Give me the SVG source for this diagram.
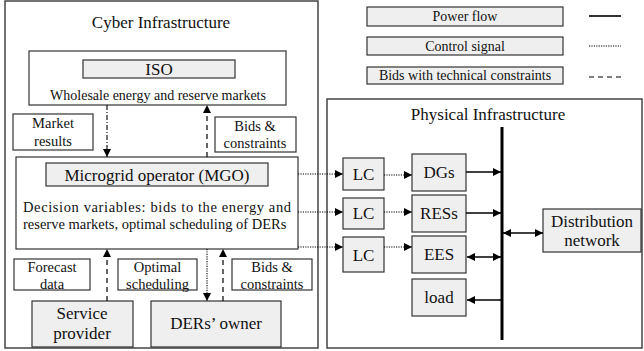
<svg xmlns="http://www.w3.org/2000/svg" width="644" height="351" viewBox="0 0 644 351">
<defs>
<style>
text{font-family:"Liberation Serif","Times New Roman",serif;fill:#111;text-anchor:middle;dominant-baseline:central}
.box{fill:#fff;stroke:#333;stroke-width:1.2}
.gbox{fill:#efefef;stroke:#333;stroke-width:1.2}
.outer{fill:#fff;stroke:#444;stroke-width:1.5}
.ln{stroke:#000;stroke-width:1.3;fill:none}
.solid{stroke:#000;stroke-width:1.6;fill:none}
.dot{stroke:#000;stroke-width:1.1;stroke-dasharray:1.2 1.2;fill:none}
.dash{stroke:#000;stroke-width:1.2;stroke-dasharray:5 4;fill:none}
.dashdot{stroke:#000;stroke-width:1.1;stroke-dasharray:5 2 1 2;fill:none}
.s17{font-size:17px}
.s14{font-size:14px}
.s145{font-size:14.5px}
</style>
<marker id="ah" viewBox="0 0 10 10" refX="10" refY="5" markerWidth="8" markerHeight="8" markerUnits="userSpaceOnUse" orient="auto-start-reverse">
<path d="M0,0 L10,5 L0,10 z" fill="#000"/>
</marker>
</defs>

<g id="cyber">
<rect class="outer" x="5" y="1" width="313" height="347"/>
<text class="s17" x="161" y="22">Cyber Infrastructure</text>
</g>

<g id="iso">
<rect class="box" x="29" y="51" width="257" height="54"/>
<rect class="gbox" x="83" y="60" width="152" height="18"/>
<text class="s17" x="159" y="69">ISO</text>
<text class="s14" x="158" y="95">Wholesale energy and reserve markets</text>
</g>

<g id="market-results">
<rect class="box" x="13" y="114" width="80" height="36"/>
<text class="s145" x="53" y="123">Market</text>
<text class="s145" x="53" y="141">results</text>
</g>

<g id="bids-top">
<rect class="box" x="215" y="117" width="81" height="35"/>
<text class="s145" x="255" y="126">Bids &amp;</text>
<text class="s145" x="255" y="143">constraints</text>
</g>

<g id="mgo">
<rect class="box" x="16" y="157" width="282" height="92"/>
<rect class="gbox" x="46" y="163" width="222" height="23"/>
<text class="s17" x="157" y="175">Microgrid operator (MGO)</text>
<text class="s145" x="23" y="207" style="text-anchor:start" textLength="268" lengthAdjust="spacing">Decision variables: bids to the energy and</text>
<text class="s145" x="23" y="224" style="text-anchor:start">reserve markets, optimal scheduling of DERs</text>
</g>

<g id="forecast">
<rect class="box" x="14" y="259" width="76" height="31"/>
<text class="s145" x="52" y="267">Forecast</text>
<text class="s145" x="52" y="284">data</text>
</g>

<g id="optimal">
<rect class="box" x="118" y="259" width="79" height="31"/>
<text class="s145" x="157.5" y="267">Optimal</text>
<text class="s145" x="157.5" y="284">scheduling</text>
</g>

<g id="bids-bottom">
<rect class="box" x="232" y="259" width="80" height="31"/>
<text class="s145" x="272" y="267">Bids &amp;</text>
<text class="s145" x="272" y="284">constraints</text>
</g>

<g id="service-provider">
<rect class="gbox" x="32" y="301" width="101" height="46"/>
<text class="s17" x="82" y="313">Service</text>
<text class="s17" x="82" y="333">provider</text>
</g>

<g id="ders-owner">
<rect class="gbox" x="151" y="301" width="130" height="46"/>
<text class="s17" x="216" y="323">DERs’ owner</text>
</g>

<g id="legend">
<rect class="gbox" x="367" y="7" width="196" height="19"/>
<text class="s14" x="465" y="16.5">Power flow</text>
<rect class="gbox" x="367" y="37" width="196" height="18"/>
<text class="s14" x="465" y="46">Control signal</text>
<rect class="gbox" x="367" y="67" width="196" height="17"/>
<text class="s14" x="465" y="75.5">Bids with technical constraints</text>
<line class="solid" x1="589" y1="16" x2="621" y2="16"/>
<line class="dot" x1="589" y1="46" x2="621" y2="46"/>
<line class="dash" x1="589" y1="77" x2="621" y2="77"/>
</g>

<g id="physical">
<rect class="outer" x="327" y="99" width="315" height="249"/>
<text class="s17" x="488" y="114">Physical Infrastructure</text>
</g>

<g id="lc1"><rect class="gbox" x="343" y="158" width="41" height="32"/><text class="s17" x="363.5" y="174">LC</text></g>
<g id="lc2"><rect class="gbox" x="343" y="198" width="41" height="31"/><text class="s17" x="363.5" y="213.5">LC</text></g>
<g id="lc3"><rect class="gbox" x="343" y="237" width="41" height="35"/><text class="s17" x="363.5" y="255">LC</text></g>

<g id="dgs"><rect class="gbox" x="412" y="154" width="54" height="37"/><text class="s17" x="439" y="172.5">DGs</text></g>
<g id="ress"><rect class="gbox" x="412" y="195" width="54" height="37"/><text class="s17" x="439" y="213.5">RESs</text></g>
<g id="ees"><rect class="gbox" x="412" y="236" width="54" height="37"/><text class="s17" x="439" y="254.5">EES</text></g>
<g id="load"><rect class="gbox" x="412" y="279" width="54" height="37"/><text class="s17" x="439" y="297.5">load</text></g>

<g id="distribution">
<rect class="gbox" x="543" y="209" width="98" height="43"/>
<text class="s17" x="592" y="221">Distribution</text>
<text class="s17" x="592" y="240">network</text>
</g>

<g id="bus">
<line x1="502" y1="127" x2="502" y2="340" stroke="#000" stroke-width="3"/>
</g>

<g id="connectors">
<line class="dashdot" x1="107" y1="105" x2="107" y2="157" marker-end="url(#ah)"/>
<line class="dash" x1="207" y1="157" x2="207" y2="105" marker-end="url(#ah)"/>
<line class="dash" x1="107" y1="301" x2="107" y2="249" marker-end="url(#ah)"/>
<line class="dot" x1="207" y1="249" x2="207" y2="301" marker-end="url(#ah)"/>
<line class="dash" x1="223" y1="301" x2="223" y2="249" marker-end="url(#ah)"/>

<line class="dot" x1="298" y1="174" x2="343" y2="174" marker-end="url(#ah)"/>
<line class="dot" x1="298" y1="212" x2="343" y2="212" marker-end="url(#ah)"/>
<line class="dot" x1="298" y1="247" x2="343" y2="247" marker-end="url(#ah)"/>
<line class="dot" x1="384" y1="175" x2="412" y2="175" marker-end="url(#ah)"/>
<line class="dot" x1="384" y1="212" x2="412" y2="212" marker-end="url(#ah)"/>
<line class="dot" x1="384" y1="247" x2="412" y2="247" marker-end="url(#ah)"/>

<line class="ln" x1="466" y1="172" x2="501" y2="172" marker-end="url(#ah)"/>
<line class="ln" x1="466" y1="213" x2="501" y2="213" marker-end="url(#ah)"/>
<line class="ln" x1="467" y1="257" x2="501" y2="257" marker-start="url(#ah)" marker-end="url(#ah)"/>
<line class="ln" x1="502" y1="300" x2="467" y2="300" marker-end="url(#ah)"/>
<line class="ln" x1="503" y1="233" x2="543" y2="233" marker-start="url(#ah)" marker-end="url(#ah)"/>
</g>
</svg>
